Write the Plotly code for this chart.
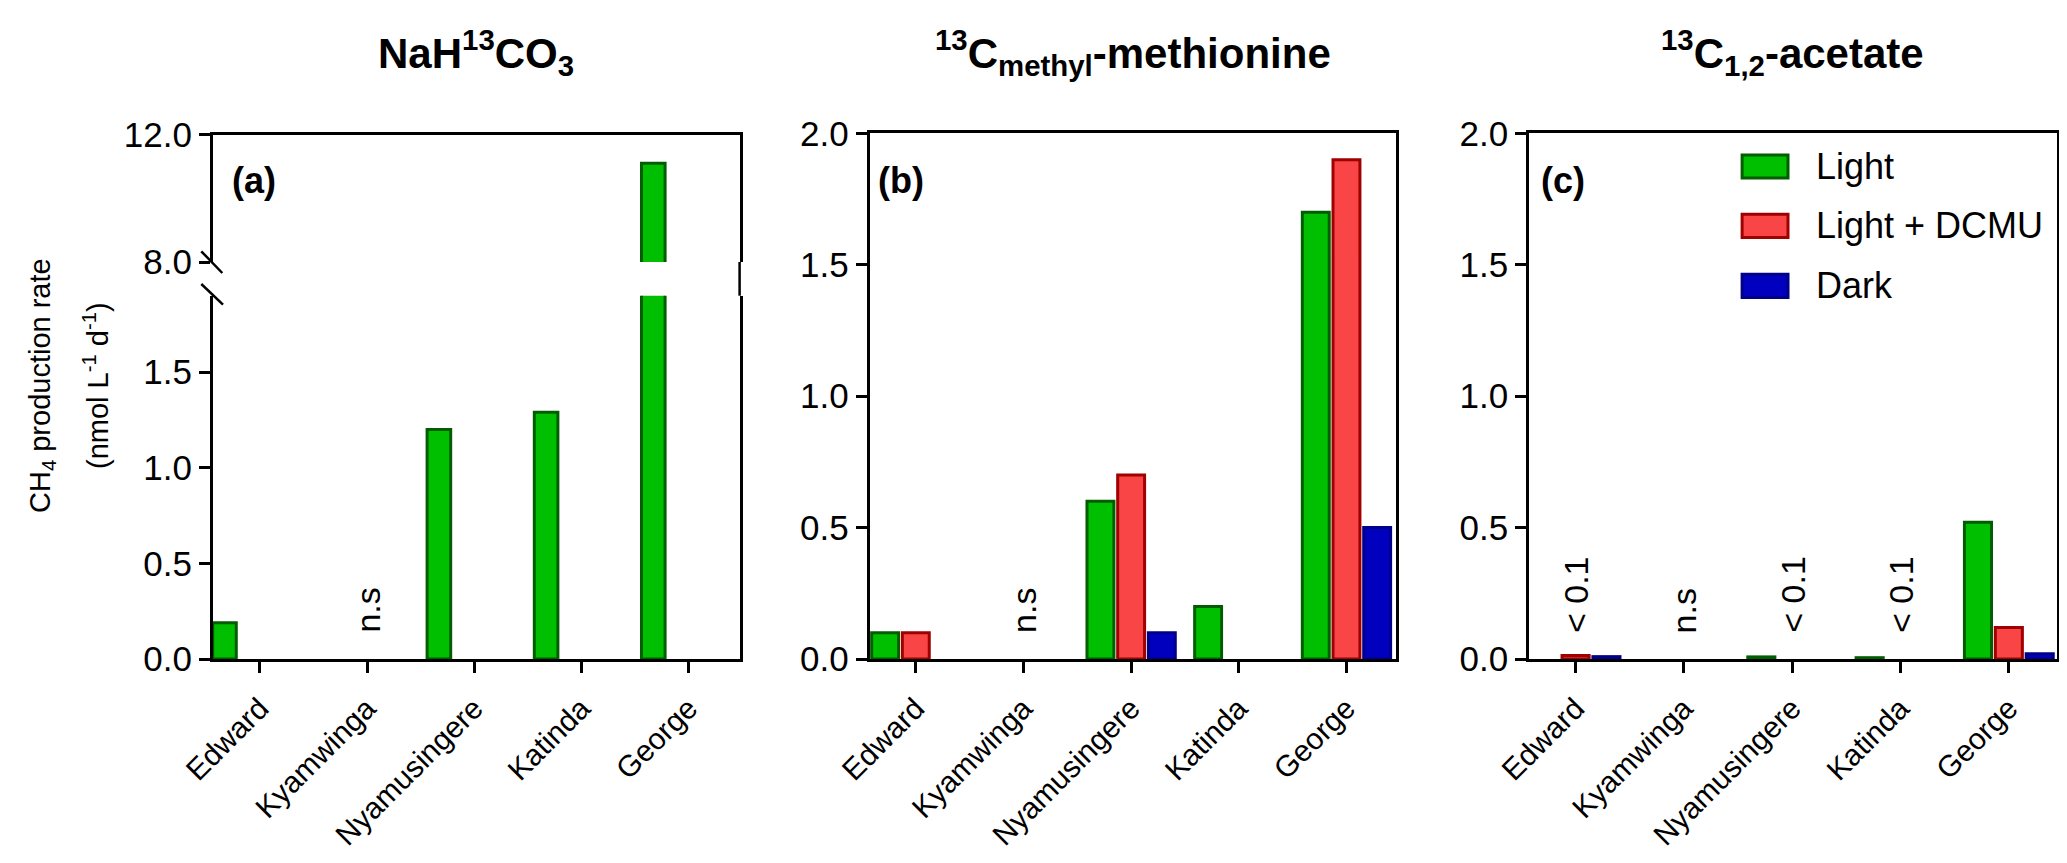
import plotly.graph_objects as go

# lakes on the x axis
lakes = ["Edward", "Kyamwinga", "Nyamusingere", "Katinda", "George"]

# CH4 production rate (nmol L-1 d-1)
bicarb_light = [0.19, None, 1.2, 1.29, 11.1]

methionine_light = [0.1, None, 0.6, 0.2, 1.7]
methionine_dcmu = [0.1, None, 0.7, None, 1.9]
methionine_dark = [None, None, 0.1, None, 0.5]

acetate_light = [None, None, 0.008, 0.005, 0.52]
acetate_dcmu = [0.013, None, None, None, 0.12]
acetate_dark = [0.009, None, None, None, 0.02]

# text written above some lakes
bicarb_notes = {"Kyamwinga": "n.s"}
methionine_notes = {"Kyamwinga": "n.s"}
acetate_notes = {"Edward": "&lt; 0.1", "Kyamwinga": "n.s", "Nyamusingere": "&lt; 0.1", "Katinda": "&lt; 0.1"}

treatments = ["Light", "Light + DCMU", "Dark"]

FONT = "Arial, Liberation Sans, sans-serif"
W, H = 2067, 863
GREEN, GREEN_LINE = "#00BE00", "#005E00"
RED, RED_LINE = "#F94545", "#A00000"
BLUE, BLUE_LINE = "#0000BE", "#000088"


def px_x(x):
    return x / W


def px_y(y):
    return 1 - y / H


fig = go.Figure()

# panel (a): broken axis -> lower part (x, y) and upper part (x2, y2)
for xa, ya in [("x", "y"), ("x2", "y2")]:
    fig.add_trace(go.Bar(x=lakes, y=bicarb_light, xaxis=xa, yaxis=ya, width=0.22, offset=-0.44,
                         marker=dict(color=GREEN, line=dict(color=GREEN_LINE, width=3)), showlegend=False))

# panels (b) and (c)
bar_style = [(GREEN, GREEN_LINE, -0.41), (RED, RED_LINE, -0.125), (BLUE, BLUE_LINE, 0.16)]
for xa, ya, series in [("x3", "y3", [methionine_light, methionine_dcmu, methionine_dark]),
                       ("x4", "y4", [acetate_light, acetate_dcmu, acetate_dark])]:
    for vals, (fill, edge, off), name in zip(series, bar_style, treatments):
        fig.add_trace(go.Bar(x=lakes, y=vals, xaxis=xa, yaxis=ya, width=0.25, offset=off, name=name,
                             marker=dict(color=fill, line=dict(color=edge, width=3)), showlegend=False))

axis_common = dict(showline=True, linecolor="black", linewidth=2.5, showgrid=False, zeroline=False,
                   ticks="outside", ticklen=11, tickwidth=2.5, tickcolor="black", automargin=False)
xcat = dict(type="category", categoryorder="array", categoryarray=lakes, tickangle=-45, ticklabelstandoff=6,
            tickfont=dict(family=FONT, size=30, color="black"))
yfont = dict(family=FONT, size=35, color="black")

a_dom = [px_x(204.7), px_x(731.6)]
b_dom = [px_x(861.5), px_x(1388)]
c_dom = [px_x(1521), px_x(2048.5)]
low_dom = [px_y(651), px_y(287.7)]
up_dom = [px_y(254), px_y(126.7)]
full_dom = [px_y(651), px_y(125.4)]

fig.update_layout(
    xaxis=dict(domain=a_dom, anchor="y", range=[-0.44, 4.475], **xcat, **axis_common),
    yaxis=dict(domain=low_dom, anchor="x", range=[0, 1.9], tickvals=[0, 0.5, 1.0, 1.5], tickformat=".1f",
               tickfont=yfont, mirror=True, **axis_common),
    xaxis2=dict(domain=a_dom, anchor="y2", range=[-0.44, 4.475], type="category", categoryorder="array",
                categoryarray=lakes, side="top", showticklabels=False, showline=True, linecolor="black",
                linewidth=2.5, showgrid=False, zeroline=False, ticks="", automargin=False),
    yaxis2=dict(domain=up_dom, anchor="x2", range=[8, 12], tickvals=[8, 12], tickformat=".1f",
                tickfont=yfont, mirror=True, **axis_common),
    xaxis3=dict(domain=b_dom, anchor="y3", range=[-0.43, 4.46], mirror=True, **xcat, **axis_common),
    yaxis3=dict(domain=full_dom, anchor="x3", range=[0, 2], dtick=0.5, tickformat=".1f",
                tickfont=yfont, mirror=True, **axis_common),
    xaxis4=dict(domain=c_dom, anchor="y4", range=[-0.43, 4.44], mirror=True, **xcat, **axis_common),
    yaxis4=dict(domain=full_dom, anchor="x4", range=[0, 2], dtick=0.5, tickformat=".1f",
                tickfont=yfont, mirror=True, **axis_common),
    barmode="overlay",
    width=W, height=H, autosize=False,
    margin=dict(l=0, r=0, t=0, b=0, pad=0),
    plot_bgcolor="white", paper_bgcolor="white",
    font=dict(family=FONT, color="black"),
)

# right frame of (a) is continuous across the break
fig.add_shape(type="line", xref="x domain", yref="paper", x0=1, x1=1, y0=low_dom[1], y1=up_dom[0],
              line=dict(color="black", width=2.5))
# break marks on the (a) y axis
for (x0, y0, x1, y1) in [(193.3, 243.3, 214.3, 265), (193.3, 276, 215, 296.7)]:
    fig.add_shape(type="line", xref="paper", yref="paper", x0=px_x(x0), y0=px_y(y0), x1=px_x(x1), y1=px_y(y1),
                  line=dict(color="black", width=2.5))

# panel titles
titles = ["<b>NaH<sup>13</sup>CO<sub>3</sub></b>",
          "<b><sup>13</sup>C<sub>methyl</sub>-methionine</b>",
          "<b><sup>13</sup>C<sub>1,2</sub>-acetate</b>"]
for dom, t in zip([a_dom, b_dom, c_dom], titles):
    fig.add_annotation(text=t, xref="paper", yref="paper", x=(dom[0] + dom[1]) / 2, y=px_y(44),
                       xanchor="center", yanchor="middle",
                       showarrow=False, font=dict(family=FONT, size=42, color="black"))

# panel letters
for x, t in [(222, "(a)"), (868, "(b)"), (1531, "(c)")]:
    fig.add_annotation(text=f"<b>{t}</b>", xref="paper", yref="paper", x=px_x(x), y=px_y(172),
                       xanchor="left", yanchor="middle", showarrow=False,
                       font=dict(family=FONT, size=36, color="black"))

# y axis title (two lines)
fig.add_annotation(text="CH<sub>4</sub> production rate", xref="paper", yref="paper", x=px_x(34), y=px_y(378),
                   xanchor="center", yanchor="middle",
                   textangle=-90, showarrow=False, font=dict(family=FONT, size=29, color="black"))
fig.add_annotation(text="(nmol L<sup>-1</sup> d<sup>-1</sup>)", xref="paper", yref="paper", x=px_x(88), y=px_y(378),
                   xanchor="center", yanchor="middle",
                   textangle=-90, showarrow=False, font=dict(family=FONT, size=29, color="black"))

# n.s / < 0.1 notes
for xa, ya, notes in [("x", "y", bicarb_notes), ("x3", "y3", methionine_notes), ("x4", "y4", acetate_notes)]:
    for lake, note in notes.items():
        fig.add_annotation(text=note, xref=xa, yref=ya, x=lake, y=0, xanchor="center", yanchor="bottom", yshift=24,
                           textangle=-90, showarrow=False, font=dict(family=FONT, size=34, color="black"))

# legend drawn inside panel (c)
legend_rows = [(0.937, GREEN, GREEN_LINE), (0.824, RED, RED_LINE), (0.710, BLUE, BLUE_LINE)]
for name, (yc, fill, edge) in zip(treatments, legend_rows):
    fig.add_shape(type="rect", xref="x4 domain", yref="y4 domain", x0=0.404, x1=0.491, y0=yc - 0.022, y1=yc + 0.022,
                  fillcolor=fill, line=dict(color=edge, width=3))
    fig.add_annotation(text=name, xref="x4 domain", yref="y4 domain", x=0.54, y=yc, xanchor="left",
                       yanchor="middle", showarrow=False, font=dict(family=FONT, size=36, color="black"))

fig.write_html("out.html")
